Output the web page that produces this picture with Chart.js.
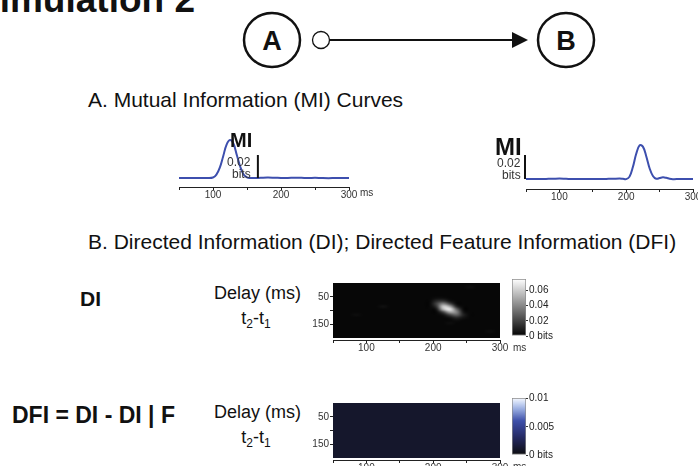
<!DOCTYPE html>
<html lang="en">
  <head>
    <meta charset="UTF-8" />
    <title>Simulation 2</title>
    <script src="https://cdn.jsdelivr.net/npm/chart.js"></script>
    <style>
      body {
        margin: 0;
        width: 698px;
        height: 466px;
        overflow: hidden;
        position: relative;
        background: #fff;
        font-family: "Liberation Sans", Arial, sans-serif;
        color: #111;
      }
      .txt {
        position: absolute;
        white-space: nowrap;
        line-height: 1;
      }
      .bold {
        font-weight: bold;
      }
      canvas {
        position: absolute;
      }
      sub {
        font-size: 12px;
        vertical-align: -4px;
      }
    </style>
  </head>
  <body>
    <div class="txt bold" style="left: -25px; top: -19px; font-size: 37px">Simulation 2</div>

    <!-- A -> B diagram -->
    <svg width="698" height="80" style="position: absolute; left: 0; top: 0">
      <ellipse cx="272" cy="40" rx="28" ry="27" fill="none" stroke="#111" stroke-width="2.5" />
      <text x="272" y="50" text-anchor="middle" font-family="Liberation Sans, Arial" font-weight="bold" font-size="27" fill="#111">A</text>
      <circle cx="321" cy="40" r="8.5" fill="#fff" stroke="#111" stroke-width="1.3" />
      <line x1="330" y1="40" x2="514" y2="40" stroke="#111" stroke-width="2" />
      <polygon points="528,40 512,32 512,48" fill="#111" />
      <ellipse cx="566" cy="40" rx="28" ry="27" fill="none" stroke="#111" stroke-width="2.5" />
      <text x="566" y="50" text-anchor="middle" font-family="Liberation Sans, Arial" font-weight="bold" font-size="27" fill="#111">B</text>
    </svg>

    <div class="txt" style="left: 88px; top: 89px; font-size: 21px">A. Mutual Information (MI) Curves</div>

    <canvas id="miA" width="210" height="68" style="left: 159px; top: 135px"></canvas>
    <canvas id="miB" width="207" height="65" style="left: 506px; top: 140px"></canvas>

    <div class="txt bold" style="left: 230px; top: 130px; font-size: 20px">MI</div>
    <div class="txt" style="left: 227px; top: 156px; font-size: 12px; color: #333">0.02</div>
    <div class="txt" style="left: 232px; top: 168px; font-size: 12px; color: #333">bits</div>
    <div class="txt" style="left: 360px; top: 188px; font-size: 10px; color: #333">ms</div>

    <div class="txt bold" style="left: 495px; top: 135px; font-size: 24px">MI</div>
    <div class="txt" style="left: 497px; top: 157px; font-size: 12px; color: #333">0.02</div>
    <div class="txt" style="left: 502px; top: 169px; font-size: 12px; color: #333">bits</div>

    <div class="txt" style="left: 88px; top: 231px; font-size: 21px">B. Directed Information (DI); Directed Feature Information (DFI)</div>

    <div class="txt bold" style="left: 80px; top: 288px; font-size: 21px">DI</div>
    <div class="txt" style="left: 214px; top: 284px; font-size: 18px">Delay (ms)</div>
    <div class="txt" style="left: 206px; top: 309px; width: 100px; text-align: center; font-size: 18px">t<sub>2</sub>-t<sub>1</sub></div>
    <canvas id="diMap" width="213" height="80" style="left: 307px; top: 276px"></canvas>
    <canvas id="diBar" width="54" height="71" style="left: 512px; top: 272px"></canvas>
    <div class="txt" style="left: 513px; top: 343px; font-size: 10px; color: #333">ms</div>

    <div class="txt bold" style="left: 12px; top: 404px; font-size: 23px">DFI = DI - DI | F</div>
    <div class="txt" style="left: 214px; top: 403px; font-size: 18px">Delay (ms)</div>
    <div class="txt" style="left: 206px; top: 428px; width: 100px; text-align: center; font-size: 18px">t<sub>2</sub>-t<sub>1</sub></div>
    <canvas id="dfiMap" width="213" height="80" style="left: 307px; top: 396px"></canvas>
    <canvas id="dfiBar" width="54" height="71" style="left: 512px; top: 391px"></canvas>
    <div class="txt" style="left: 513px; top: 462px; font-size: 10px; color: #333">ms</div>

    <script>
      // MI curves (time in ms, value in bits)
      var miTimeA = [50, 60, 70, 80, 90, 100, 105, 110, 115, 120, 125, 130, 135, 140, 145, 150, 155, 160, 170, 180, 190, 200, 210, 220, 230, 240, 250, 260, 270, 280, 290, 300];
      var miBitsA = [0.001, 0.001, 0.001, 0.001, 0.0011, 0.0015, 0.004, 0.01, 0.02, 0.03, 0.034, 0.031, 0.021, 0.011, 0.004, 0.0015, 0.001, 0.001, 0.0012, 0.0014, 0.0013, 0.0011, 0.001, 0.0013, 0.0012, 0.001, 0.0012, 0.001, 0.0009, 0.001, 0.001, 0.001];

      var miTimeB = [50, 60, 70, 80, 90, 100, 110, 120, 130, 140, 150, 160, 170, 180, 190, 195, 200, 205, 210, 215, 220, 225, 230, 235, 240, 245, 250, 255, 260, 265, 270, 280, 290, 300];
      var miBitsB = [0.001, 0.001, 0.001, 0.0011, 0.0012, 0.0014, 0.0012, 0.001, 0.001, 0.001, 0.001, 0.001, 0.0011, 0.0012, 0.0014, 0.0012, 0.0009, 0.003, 0.011, 0.022, 0.029, 0.028, 0.02, 0.01, 0.0035, 0.0012, 0.0018, 0.0024, 0.002, 0.0012, 0.0009, 0.001, 0.001, 0.001];

      // time axis ticks
      var timeTicks = [50, 100, 150, 200, 250, 300];
      var timeLabels = ["", "100", "", "200", "", "300"];

      // delay axis ticks
      var delayTicks = [50, 100, 150];
      var delayLabels = ["50", "", "150"];

      // DI map: cell centres (time, delay) and the cells above background (time, delay, bits)
      var mapCols = [55, 65, 75, 85, 95, 105, 115, 125, 135, 145, 155, 165, 175, 185, 195, 205, 215, 225, 235, 245, 255, 265, 275, 285, 295];
      var mapRows = [5, 15, 25, 35, 45, 55, 65, 75, 85, 95, 105, 115, 125, 135, 145, 155, 165, 175, 185, 195];
      var diBackground = 0.002;
      var diCells = [
        [205, 55, 0.004], [215, 55, 0.004],
        [205, 65, 0.012], [215, 65, 0.015], [225, 65, 0.005],
        [205, 75, 0.02], [215, 75, 0.04], [225, 75, 0.02],
        [205, 85, 0.015], [215, 85, 0.062], [225, 85, 0.05], [235, 85, 0.01],
        [205, 95, 0.006], [215, 95, 0.055], [225, 95, 0.07], [235, 95, 0.03],
        [215, 105, 0.02], [225, 105, 0.05], [235, 105, 0.04], [245, 105, 0.006],
        [215, 115, 0.005], [225, 115, 0.02], [235, 115, 0.03], [245, 115, 0.01],
        [225, 125, 0.005], [235, 125, 0.012], [245, 125, 0.006],
        [235, 135, 0.004],
        [125, 85, 0.005], [85, 115, 0.004], [225, 145, 0.004], [285, 175, 0.004], [255, 15, 0.004]
      ];

      // DFI map is flat
      var dfiBackground = 0.0011;
      var dfiCells = [];

      // colour bars
      var diMax = 0.075;
      var diBarTicks = [0, 0.02, 0.04, 0.06];
      var diBarLabels = ["0 bits", "0.02", "0.04", "0.06"];
      var dfiMax = 0.0101;
      var dfiBarTicks = [0, 0.005, 0.01];
      var dfiBarLabels = ["0 bits", "0.005", "0.01"];

      var FONT = "Liberation Sans, Arial, sans-serif";

      // colour maps, f from 0 to 1
      var colormaps = {
        gray: [
          [0, [0, 0, 0]],
          [1, [255, 255, 255]],
        ],
        blue: [
          [0, [12, 12, 14]],
          [0.35, [40, 46, 110]],
          [0.6, [62, 80, 170]],
          [0.85, [172, 192, 236]],
          [1, [246, 249, 255]],
        ],
      };

      function colorAt(name, f) {
        var stops = colormaps[name];
        f = Math.max(0, Math.min(1, f));
        for (var i = 1; i < stops.length; i++) {
          if (f <= stops[i][0]) {
            var a = stops[i - 1], b = stops[i];
            var k = (f - a[0]) / (b[0] - a[0]);
            return [0, 1, 2].map(function (c) {
              return Math.round(a[1][c] + (b[1][c] - a[1][c]) * k);
            });
          }
        }
        return stops[stops.length - 1][1];
      }

      function timeAxis() {
        return {
          type: "linear",
          min: 50,
          max: 300,
          afterBuildTicks: function (s) {
            s.ticks = timeTicks.map(function (v) { return { value: v }; });
          },
          afterFit: function (s) { s.height = 16; },
          ticks: {
            autoSkip: false,
            maxRotation: 0,
            padding: -1,
            color: "#333",
            font: { family: FONT, size: 10 },
            callback: function (v, i) { return timeLabels[i]; },
          },
          grid: { drawOnChartArea: false, tickLength: 3, color: "#222" },
          border: { color: "#222", width: 1 },
        };
      }

      // vertical 0.02 bits bar drawn through the scales
      function scaleBar(at, from, to) {
        return {
          id: "scaleBar",
          afterDatasetsDraw: function (chart) {
            var x = chart.scales.x.getPixelForValue(at);
            var ctx = chart.ctx;
            ctx.save();
            ctx.strokeStyle = "#111";
            ctx.lineWidth = 2;
            ctx.beginPath();
            ctx.moveTo(x, chart.scales.y.getPixelForValue(from));
            ctx.lineTo(x, chart.scales.y.getPixelForValue(to));
            ctx.stroke();
            ctx.restore();
          },
        };
      }

      function miChart(id, times, bits, yMin, yMax, bar) {
        new Chart(document.getElementById(id), {
          type: "line",
          data: {
            datasets: [
              {
                data: times.map(function (t, i) { return { x: t, y: bits[i] }; }),
                borderColor: "#3d4fae",
                borderWidth: 2,
                pointRadius: 0,
                tension: 0.4,
                fill: false,
              },
            ],
          },
          options: {
            responsive: false,
            animation: false,
            layout: { padding: { left: 20, right: 20, top: 0, bottom: 0 } },
            plugins: { legend: { display: false }, tooltip: { enabled: false } },
            scales: {
              x: timeAxis(),
              y: { display: false, min: yMin, max: yMax },
            },
          },
          plugins: [bar],
        });
      }

      // heat map: cells painted into a small image, then stretched over the scales
      function heatmap(cells, background, max, cmap) {
        return {
          id: "heatmap",
          beforeDatasetsDraw: function (chart) {
            var off = document.createElement("canvas");
            off.width = mapCols.length;
            off.height = mapRows.length;
            var octx = off.getContext("2d");
            var img = octx.createImageData(mapCols.length, mapRows.length);
            for (var j = 0; j < mapRows.length; j++) {
              for (var i = 0; i < mapCols.length; i++) {
                var v = background;
                for (var k = 0; k < cells.length; k++) {
                  if (cells[k][0] == mapCols[i] && cells[k][1] == mapRows[j]) v = cells[k][2];
                }
                var c = colorAt(cmap, v / max);
                var p = (j * mapCols.length + i) * 4;
                img.data[p] = c[0];
                img.data[p + 1] = c[1];
                img.data[p + 2] = c[2];
                img.data[p + 3] = 255;
              }
            }
            octx.putImageData(img, 0, 0);
            var hx = (mapCols[1] - mapCols[0]) / 2;
            var hy = (mapRows[1] - mapRows[0]) / 2;
            var x0 = chart.scales.x.getPixelForValue(mapCols[0] - hx);
            var x1 = chart.scales.x.getPixelForValue(mapCols[mapCols.length - 1] + hx);
            var y0 = chart.scales.y.getPixelForValue(mapRows[0] - hy);
            var y1 = chart.scales.y.getPixelForValue(mapRows[mapRows.length - 1] + hy);
            var ctx = chart.ctx;
            ctx.save();
            ctx.imageSmoothingEnabled = true;
            ctx.imageSmoothingQuality = "high";
            ctx.drawImage(off, x0, y0, x1 - x0, y1 - y0);
            ctx.restore();
          },
        };
      }

      function mapChart(id, plugin) {
        new Chart(document.getElementById(id), {
          type: "scatter",
          data: { datasets: [{ data: [] }] },
          options: {
            responsive: false,
            animation: false,
            layout: { padding: { left: 0, right: 20, top: 0, bottom: 0 } },
            plugins: { legend: { display: false }, tooltip: { enabled: false } },
            scales: {
              x: timeAxis(),
              y: {
                reverse: true,
                min: 0,
                max: 206,
                afterBuildTicks: function (s) {
                  s.ticks = delayTicks.map(function (v) { return { value: v }; });
                },
                afterFit: function (s) { s.width = 26; },
                ticks: {
                  padding: 1,
                  color: "#333",
                  font: { family: FONT, size: 10 },
                  callback: function (v, i) { return delayLabels[i]; },
                },
                grid: { drawOnChartArea: false, tickLength: 3, color: "#222" },
                border: { display: false },
              },
            },
          },
          plugins: [plugin],
        });
      }

      function colorBar(id, max, ticks, labels, cmap) {
        new Chart(document.getElementById(id), {
          type: "bar",
          data: {
            labels: [""],
            datasets: [
              {
                data: [max],
                backgroundColor: function (ctx) {
                  var area = ctx.chart.chartArea;
                  if (!area) return "#000";
                  var g = ctx.chart.ctx.createLinearGradient(0, area.bottom, 0, area.top);
                  for (var s = 0; s <= 10; s++) {
                    var c = colorAt(cmap, s / 10);
                    g.addColorStop(s / 10, "rgb(" + c.join(",") + ")");
                  }
                  return g;
                },
                borderColor: "#8c8c8c",
                borderWidth: 1,
                borderSkipped: false,
                barPercentage: 1,
                categoryPercentage: 1,
              },
            ],
          },
          options: {
            responsive: false,
            animation: false,
            layout: { padding: { left: 0, right: 0, top: 6, bottom: 6 } },
            plugins: { legend: { display: false }, tooltip: { enabled: false } },
            scales: {
              x: { display: false },
              y: {
                position: "right",
                min: 0,
                max: max,
                afterBuildTicks: function (s) {
                  s.ticks = ticks.map(function (v) { return { value: v }; });
                },
                afterFit: function (s) { s.width = 40; },
                ticks: {
                  padding: 1,
                  color: "#222",
                  font: { family: FONT, size: 10 },
                  callback: function (v, i) { return labels[i]; },
                },
                grid: { drawOnChartArea: false, tickLength: 2, color: "#333" },
                border: { display: false },
              },
            },
          },
        });
      }

      miChart("miA", miTimeA, miBitsA, -0.0068, 0.0384, scaleBar(166, 0.001, 0.021));
      miChart("miB", miTimeB, miBitsB, -0.0073, 0.0335, scaleBar(48.5, 0.001, 0.021));
      mapChart("diMap", heatmap(diCells, diBackground, diMax, "gray"));
      mapChart("dfiMap", heatmap(dfiCells, dfiBackground, dfiMax, "blue"));
      colorBar("diBar", diMax, diBarTicks, diBarLabels, "gray");
      colorBar("dfiBar", dfiMax, dfiBarTicks, dfiBarLabels, "blue");
    </script>
  </body>
</html>
